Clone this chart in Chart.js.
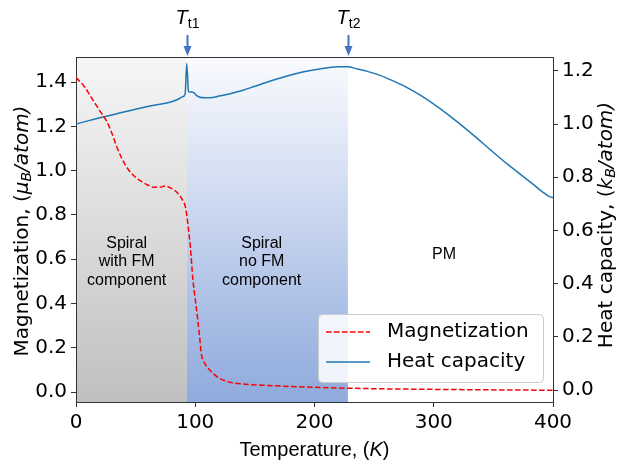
<!DOCTYPE html>
<html>
<head>
<meta charset="utf-8">
<script src="https://cdn.jsdelivr.net/npm/chart.js@4.4.0/dist/chart.umd.min.js"></script>
<style>
  body { margin: 0; background: #fff; }
</style>
</head>
<body>
<canvas id="chart" width="619" height="463"></canvas>
<script>
// Magnetization (left axis, muB/atom) vs temperature (K)
const tempMag = [0, 7, 14, 20, 26, 30, 34, 38, 42, 46, 50, 55, 60, 65, 70, 75, 80, 85, 89, 92, 94, 96, 98, 100, 102, 104, 105, 108, 112, 115, 120, 129, 140, 155, 180, 230, 300, 400];
const magnetization = [1.42, 1.38, 1.32, 1.27, 1.22, 1.17, 1.11, 1.06, 1.02, 0.99, 0.97, 0.95, 0.935, 0.925, 0.925, 0.93, 0.92, 0.90, 0.87, 0.83, 0.75, 0.65, 0.51, 0.42, 0.33, 0.23, 0.175, 0.13, 0.10, 0.084, 0.063, 0.044, 0.036, 0.031, 0.025, 0.017, 0.012, 0.008];

// Heat capacity (right axis, kB/atom)
const tempHeat = [0, 20, 40, 60, 80, 86, 89, 91.5, 92.9, 94.3, 95.5, 97, 99, 101, 104, 108, 112, 120, 130, 140, 150, 160, 170, 180, 190, 200, 210, 220, 228, 236, 245, 255, 265, 278, 290, 305, 320, 333, 347, 361, 373, 384, 392, 397, 400];
const heatCapacity = [1.0, 1.024, 1.045, 1.066, 1.084, 1.094, 1.102, 1.112, 1.228, 1.123, 1.12, 1.12, 1.117, 1.108, 1.101, 1.099, 1.099, 1.105, 1.115, 1.127, 1.142, 1.157, 1.171, 1.184, 1.196, 1.204, 1.211, 1.215, 1.215, 1.207, 1.197, 1.183, 1.164, 1.136, 1.105, 1.059, 1.007, 0.959, 0.905, 0.852, 0.81, 0.771, 0.742, 0.727, 0.724];

const xTicks = [0, 100, 200, 300, 400];
const magTicks = [0, 0.2, 0.4, 0.6, 0.8, 1.0, 1.2, 1.4];
const heatTicks = [0, 0.2, 0.4, 0.6, 0.8, 1.0, 1.2];

// phase boundaries (K) and names
const transitionTemps = [93, 228];
const transitionNames = ['t1', 't2'];
const phaseNames = [['Spiral', 'with FM', 'component'], ['Spiral', 'no FM', 'component'], ['PM']];

const DV = '"DejaVu Sans"';
const AR = '"Liberation Sans", Arial';

// draw a row of text pieces with different fonts, centred on x
function drawRuns(ctx, runs, x, y) {
  let total = 0;
  runs.forEach(r => { ctx.font = r.font; total += ctx.measureText(r.text).width; });
  let cx = x - total / 2;
  runs.forEach(r => {
    ctx.font = r.font;
    ctx.fillText(r.text, cx, y + (r.dy || 0));
    cx += ctx.measureText(r.text).width;
  });
}

const decorations = {
  id: 'decorations',
  beforeDraw(chart) {
    const { ctx, chartArea: a, scales } = chart;
    const x = scales.x;
    const edges = [0].concat(transitionTemps);
    const bottoms = ['rgb(192,192,192)', 'rgb(143,170,221)'];
    const tops = ['rgb(246,246,246)', 'rgb(250,251,254)'];
    ctx.save();
    for (let i = 0; i < 2; i++) {
      const x0 = x.getPixelForValue(edges[i]);
      const x1 = x.getPixelForValue(edges[i + 1]);
      const g = ctx.createLinearGradient(0, a.top, 0, a.bottom);
      g.addColorStop(0, tops[i]);
      g.addColorStop(1, bottoms[i]);
      ctx.fillStyle = g;
      ctx.fillRect(x0, a.top, x1 - x0, a.bottom - a.top);
    }
    ctx.restore();
  },
  beforeDatasetsDraw(chart) {
    const { ctx, scales } = chart;
    const x = scales.x, y = scales.y;
    const anchors = [42.5, 155.7, 308.6];
    ctx.save();
    ctx.fillStyle = '#000';
    ctx.textAlign = 'center';
    ctx.textBaseline = 'middle';
    ctx.font = '16px ' + AR;
    phaseNames.forEach((lines, i) => {
      const cx = x.getPixelForValue(anchors[i]);
      const cy = y.getPixelForValue(lines.length > 1 ? 0.587 : 0.619);
      lines.forEach((t, j) => {
        ctx.fillText(t, cx, cy + (j - (lines.length - 1) / 2) * 18.7);
      });
    });
    ctx.restore();
  },
  afterDraw(chart) {
    const { ctx, chartArea: a, scales } = chart;
    const x = scales.x;
    ctx.save();
    // top spine
    ctx.strokeStyle = '#333';
    ctx.lineWidth = 1;
    ctx.beginPath();
    ctx.moveTo(a.left, a.top + 0.5);
    ctx.lineTo(a.right, a.top + 0.5);
    ctx.stroke();

    // transition arrows and labels
    ctx.fillStyle = '#4472c4';
    ctx.strokeStyle = '#4472c4';
    transitionTemps.forEach((t, i) => {
      const px = Math.round(x.getPixelForValue(t)) + 0.5;
      ctx.lineWidth = 2;
      ctx.beginPath();
      ctx.moveTo(px, 35);
      ctx.lineTo(px, 47);
      ctx.stroke();
      ctx.beginPath();
      ctx.moveTo(px - 4, 46);
      ctx.lineTo(px + 4, 46);
      ctx.lineTo(px, 56);
      ctx.closePath();
      ctx.fill();
      ctx.save();
      ctx.fillStyle = '#000';
      ctx.textBaseline = 'alphabetic';
      drawRuns(ctx, [
        { text: 'T', font: 'italic 20px ' + AR },
        { text: transitionNames[i], font: '14px ' + AR, dy: 4 }
      ], px, 24);
      ctx.restore();
    });

    // axis titles
    ctx.fillStyle = '#000';
    ctx.textBaseline = 'middle';
    ctx.save();
    ctx.translate(23, 231);
    ctx.rotate(-Math.PI / 2);
    drawRuns(ctx, [
      { text: 'Magnetization, (', font: '20px ' + DV },
      { text: 'μ', font: 'italic 20px ' + DV },
      { text: 'B', font: 'italic 14px ' + DV, dy: 4 },
      { text: '/atom)', font: 'italic 20px ' + DV }
    ], 0, 0);
    ctx.restore();
    ctx.save();
    ctx.translate(607, 225);
    ctx.rotate(-Math.PI / 2);
    drawRuns(ctx, [
      { text: 'Heat capacity, (', font: '20px ' + DV },
      { text: 'k', font: 'italic 20px ' + DV },
      { text: 'B', font: 'italic 14px ' + DV, dy: 4 },
      { text: '/atom)', font: 'italic 20px ' + DV }
    ], 0, 0);
    ctx.restore();
    drawRuns(ctx, [
      { text: 'Temperature, (', font: '20px ' + AR },
      { text: 'K', font: 'italic 20px ' + AR },
      { text: ')', font: '20px ' + AR }
    ], (a.left + a.right) / 2, 450);

    // legend
    const lx = 318.5, ly = 314.5, lw = 225, lh = 68, r = 4;
    ctx.fillStyle = 'rgba(255,255,255,0.85)';
    ctx.strokeStyle = '#cccccc';
    ctx.lineWidth = 1;
    ctx.beginPath();
    ctx.roundRect(lx, ly, lw, lh, r);
    ctx.fill();
    ctx.stroke();
    const items = chart.data.datasets;
    items.forEach((ds, i) => {
      const yy = 332 + i * 30;
      ctx.strokeStyle = ds.borderColor;
      ctx.lineWidth = 1.5;
      ctx.setLineDash(ds.borderDash || []);
      ctx.beginPath();
      ctx.moveTo(326, yy);
      ctx.lineTo(370, yy);
      ctx.stroke();
      ctx.setLineDash([]);
      ctx.fillStyle = '#000';
      ctx.font = '20px ' + DV;
      ctx.textAlign = 'left';
      ctx.textBaseline = 'middle';
      ctx.fillText(ds.label, 387, yy);
    });
    ctx.restore();
  }
};

const axisGrid = { drawOnChartArea: false, drawTicks: true, tickLength: 5, color: '#333', tickColor: '#333' };
const axisBorder = { display: true, color: '#333', width: 1 };
const tickFont = { family: 'DejaVu Sans', size: 20 };

new Chart(document.getElementById('chart'), {
  type: 'line',
  data: {
    datasets: [
      {
        label: 'Magnetization',
        data: tempMag.map((t, i) => ({ x: t, y: magnetization[i] })),
        borderColor: '#ff0000',
        borderWidth: 1.5,
        borderDash: [5.5, 2.5],
        pointRadius: 0,
        cubicInterpolationMode: 'monotone',
        yAxisID: 'y'
      },
      {
        label: 'Heat capacity',
        data: tempHeat.map((t, i) => ({ x: t, y: heatCapacity[i] })),
        borderColor: '#1f77b4',
        borderWidth: 1.5,
        pointRadius: 0,
        cubicInterpolationMode: 'monotone',
        yAxisID: 'y1'
      }
    ]
  },
  options: {
    responsive: false,
    animation: false,
    devicePixelRatio: 1,
    layout: { padding: { top: 57, left: 0, right: 0, bottom: 0 } },
    plugins: { legend: { display: false }, tooltip: { enabled: false } },
    scales: {
      x: {
        type: 'linear',
        min: 0,
        max: 400,
        grid: axisGrid,
        border: axisBorder,
        afterBuildTicks: s => { s.ticks = xTicks.map(v => ({ value: v })); },
        afterFit: s => { s.height = 61; },
        ticks: { color: '#000', font: tickFont, padding: 4, maxRotation: 0 }
      },
      y: {
        position: 'left',
        min: -0.045,
        max: 1.513,
        grid: axisGrid,
        border: axisBorder,
        afterBuildTicks: s => { s.ticks = magTicks.map(v => ({ value: v })); },
        afterFit: s => { s.width = 76; },
        ticks: { color: '#000', font: tickFont, padding: 4, callback: v => v.toFixed(1) }
      },
      y1: {
        position: 'right',
        min: -0.045,
        max: 1.252,
        grid: axisGrid,
        border: axisBorder,
        afterBuildTicks: s => { s.ticks = heatTicks.map(v => ({ value: v })); },
        afterFit: s => { s.width = 66; },
        ticks: { color: '#000', font: tickFont, padding: 4, callback: v => v.toFixed(1) }
      }
    }
  },
  plugins: [decorations]
});
</script>
</body>
</html>
